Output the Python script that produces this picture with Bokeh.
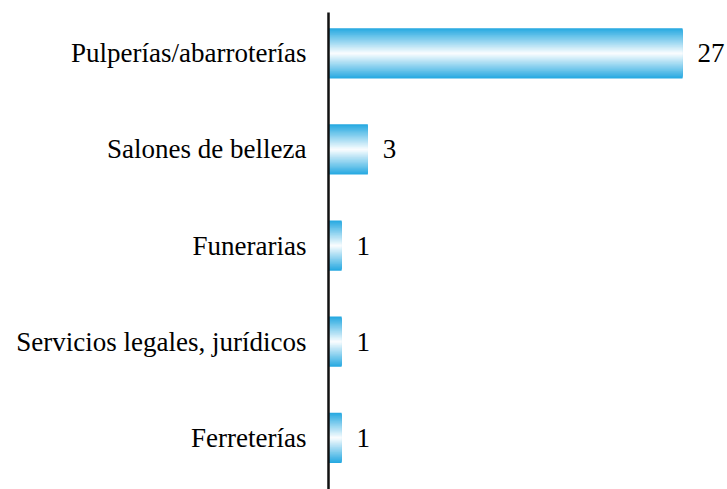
from bokeh.plotting import figure
from bokeh.models import Range1d, FixedTicker, ColumnDataSource
from bokeh.core.properties import value
from bokeh.embed import file_html
from bokeh.resources import INLINE

# ---- data (top to bottom) ----
categories = ["Pulperías/abarroterías", "Salones de belleza", "Funerarias",
              "Servicios legales, jurídicos", "Ferreterías"]
counts = [27, 3, 1, 1, 1]

FONT = "'Liberation Serif', 'Times New Roman', serif"
BLUE = (39, 169, 225)
positions = list(range(len(categories)))

p = figure(width=727, height=489, output_backend="svg", toolbar_location=None,
           x_axis_location=None,
           x_range=Range1d(0, 30.43), y_range=Range1d(4.5385, -0.4256),
           min_border_left=328, min_border_right=0, min_border_top=12,
           min_border_bottom=0)
p.outline_line_color = None
p.grid.visible = False
p.background_fill_color = "white"
p.border_fill_color = "white"

# gradient bars: nested bars, blue at edges to white in the middle
bar_h = 0.523
N = 30
for k in range(N):
    frac = k / N
    h = bar_h * (1 - frac)
    t = frac
    c = tuple(int(round(BLUE[i] + (255 - BLUE[i]) * t)) for i in range(3))
    col = "#%02x%02x%02x" % c
    p.hbar(y=positions, right=counts, left=0, height=h,
           fill_color=col, line_color=None)

src = ColumnDataSource(dict(y=positions, x=counts, t=[str(v) for v in counts]))
p.text(x="x", y="y", text="t", source=src, x_offset=15,
       text_align="left", text_baseline="middle",
       text_font=value(FONT), text_font_size="27px", text_color="black")

ax = p.yaxis[0]
ax.ticker = FixedTicker(ticks=positions)
ax.major_label_overrides = {i: c for i, c in zip(positions, categories)}
ax.major_label_text_font = FONT
ax.major_label_text_font_size = "27px"
ax.major_label_text_color = "black"
ax.major_tick_line_color = None
ax.minor_tick_line_color = None
ax.major_tick_out = 0
ax.major_tick_in = 0
ax.major_label_standoff = 22
ax.axis_line_color = "#111111"
ax.axis_line_width = 2.5

open("out.html", "w").write(file_html(p, INLINE))
